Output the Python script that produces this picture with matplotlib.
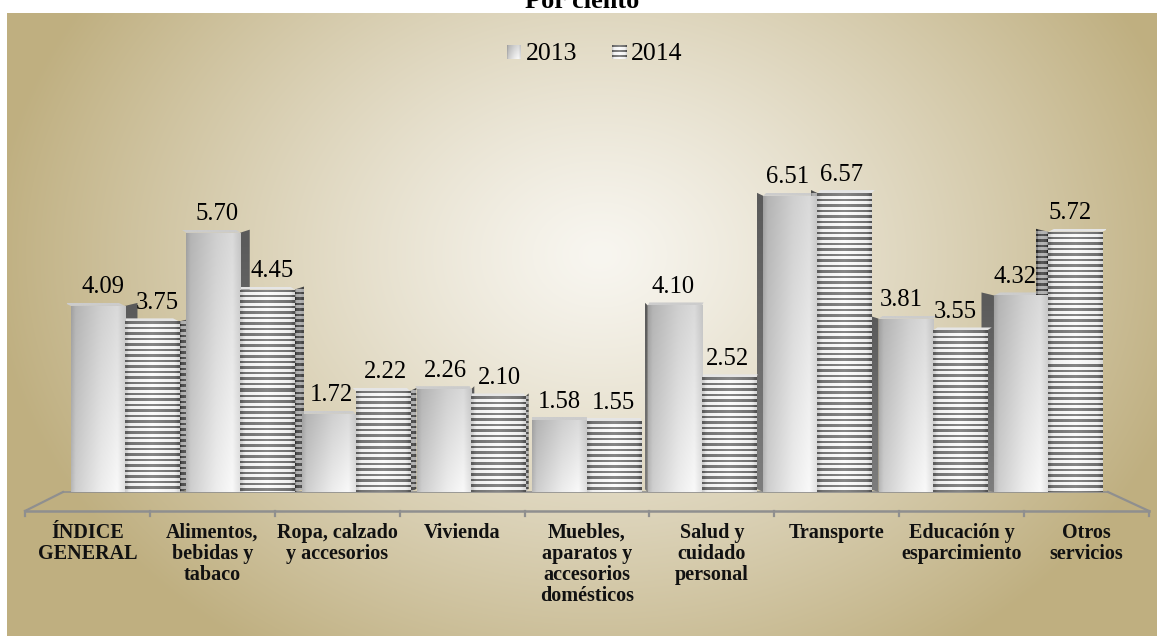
import numpy as np
import matplotlib
matplotlib.use("Agg")
import matplotlib.pyplot as plt
from matplotlib.patches import Polygon

# ---- data -------------------------------------------------------------
categories = [
    "ÍNDICE\nGENERAL",
    "Alimentos,\nbebidas y\ntabaco",
    "Ropa, calzado\ny accesorios",
    "Vivienda",
    "Muebles,\naparatos y\naccesorios\ndomésticos",
    "Salud y\ncuidado\npersonal",
    "Transporte",
    "Educación y\nesparcimiento",
    "Otros\nservicios",
]
values_2013 = [4.09, 5.70, 1.72, 2.26, 1.58, 4.10, 6.51, 3.81, 4.32]
values_2014 = [3.75, 4.45, 2.22, 2.10, 1.55, 2.52, 6.57, 3.55, 5.72]
series_labels = ["2013", "2014"]
title_text = "Por ciento"

# ---- figure / pixel canvas ---------------------------------------------
W, H, DPI = 1162, 639, 100
SERIF = "Liberation Serif"
fig = plt.figure(figsize=(W / DPI, H / DPI), dpi=DPI)
fig.patch.set_facecolor("white")

bg = fig.add_axes([0, 0, 1, 1])
bg.axis("off")

# panel with an elliptical radial gradient (light centre, khaki edges)
PL, PT, PR, PB = 7, 13, 1157, 636
yy, xx = np.mgrid[PT:PB, PL:PR] + 0.5
cx, cy, rx, ry = 600.0, 255.0, 610.0, 480.0
r = np.sqrt(((xx - cx) / rx) ** 2 + ((yy - cy) / ry) ** 2)
t = np.clip(r, 0, 1) ** 1.2
c0 = np.array([248, 246, 240]) / 255.0
c1 = np.array([191, 175, 128]) / 255.0
panel = c0[None, None, :] * (1 - t[..., None]) + c1[None, None, :] * t[..., None]
bg.imshow(panel, extent=(PL, PR, PB, PT), origin="upper", aspect="auto",
          interpolation="bilinear", zorder=0)

# floor of the 3-D plot area
floor_col = "#8f8f8f"
back_y, front_y = 492, 511
bl, br, fl, fr = 63, 1108, 25, 1149
bg.plot([fl, bl], [front_y, back_y], color=floor_col, lw=1.6, zorder=1)
bg.plot([fr, br], [front_y, back_y], color=floor_col, lw=1.6, zorder=1)
bg.plot([bl, br], [back_y, back_y], color=floor_col, lw=1.2, zorder=1)
bg.plot([fl, fr], [front_y, front_y], color=floor_col, lw=1.8, zorder=1)
n_cat = len(categories)
step = (fr - fl) / n_cat
for k in range(n_cat + 1):
    xk = fl + step * k
    bg.plot([xk, xk], [front_y, front_y + 5], color=floor_col, lw=1.6, zorder=1)

# category labels (one text per line for exact line pitch)
for i, lab in enumerate(categories):
    xc = fl + step * (i + 0.5)
    for j, line in enumerate(lab.split("\n")):
        bg.text(xc, 538 + 21 * j, line, ha="center", va="baseline",
                fontsize=14.5, fontweight="bold", family=SERIF, color="#111111")

# title, partly above the figure
bg.text(582, 8, title_text, ha="center", va="baseline", fontsize=19,
        fontweight="bold", family=SERIF, color="black", clip_on=False)


def face_2013(ncols=64, nrows=120):
    prof = np.interp(np.linspace(0, 1, ncols),
                     [0, 0.08, 0.55, 0.85, 1.0], [178, 200, 230, 242, 218])
    vfac = np.linspace(0.90, 1.03, nrows)
    g = np.clip(prof[None, :] * vfac[:, None], 0, 255) / 255.0
    return np.dstack([g, g, g])


def face_2014(nrows, ncols=64, dark_shift=0, light_shift=0, period=5.5, thick=2.2):
    tt = np.linspace(0, 1, ncols)
    dark = np.interp(tt, [0, 0.1, 0.5, 0.9, 1], [90, 115, 135, 112, 80]) + dark_shift
    light = np.interp(tt, [0, 0.1, 0.5, 0.9, 1], [205, 240, 252, 240, 215]) + light_shift
    rows = np.arange(nrows)
    is_dark = (rows % period) < thick
    img = np.where(is_dark[:, None], dark[None, :], light[None, :])
    g = np.clip(img, 0, 255) / 255.0
    return np.dstack([g, g, g])


# ---- legend -------------------------------------------------------------
leg_font = 18.5
bg.imshow(face_2013(16, 16), extent=(507, 521, 59, 45), origin="upper",
          aspect="auto", zorder=3)
bg.text(526, 60, series_labels[0], ha="left", va="baseline", fontsize=leg_font,
        family=SERIF, color="black")
bg.imshow(face_2014(14, 16, period=5, thick=2), extent=(612, 627, 59, 45),
          origin="upper", aspect="auto", interpolation="nearest", zorder=3)
bg.text(631, 60, series_labels[1], ha="left", va="baseline", fontsize=leg_font,
        family=SERIF, color="black")

bg.set_xlim(0, W)
bg.set_ylim(H, 0)

# ---- bar axes -------------------------------------------------------------
CAT_PX = 115.4          # pixels per category along the back plane
PX_PER_UNIT = 45.5      # pixels per percentage point
YMAX = 8.0
x_left_px = 125 - 0.5 * CAT_PX
ax = fig.add_axes([x_left_px / W, (H - back_y) / H,
                   n_cat * CAT_PX / W, YMAX * PX_PER_UNIT / H])
ax.patch.set_alpha(0)
ax.axis("off")

fw = 0.47                                 # front-face width of one bar
idx = np.arange(n_cat)
dy = 3.0 / PX_PER_UNIT                    # depth shift (up) of back edges
centre = (n_cat - 1) / 2.0

bars13 = ax.bar(idx - fw, values_2013, width=fw, align="edge",
                facecolor="none", edgecolor="none", zorder=3)
bars14 = ax.bar(idx, values_2014, width=fw, align="edge",
                facecolor="none", edgecolor="none", zorder=3)


def fill_poly(poly_xy, img, z, interp="bilinear"):
    poly = Polygon(poly_xy, closed=True, facecolor="none", edgecolor="none",
                   transform=ax.transData)
    ax.add_patch(poly)
    xs = [p[0] for p in poly_xy]
    ys = [p[1] for p in poly_xy]
    im = ax.imshow(img, extent=(min(xs), max(xs), min(ys), max(ys)),
                   origin="upper", aspect="auto", interpolation=interp, zorder=z)
    im.set_clip_path(poly)


for series, bars in ((0, bars13), (1, bars14)):
    for i, rect in enumerate(bars):
        x0 = rect.get_x()
        x1 = x0 + rect.get_width()
        v = rect.get_height()
        off = i - centre
        s = 0.027 * abs(off)               # side-face width (category units)
        sgn = np.sign(off)

        # side face, receding toward the centre of the view
        if sgn < 0:
            xe = x1
            side = [(xe, 0), (xe + s, dy), (xe + s, v + dy), (xe, v)]
        elif sgn > 0:
            xe = x0
            side = [(xe, 0), (xe - s, dy), (xe - s, v + dy), (xe, v)]
        else:
            side = None
        if side is not None:
            if series == 0:
                g = np.interp(np.linspace(0, 1, 40), [0, 1], [90, 125]) / 255.0
                simg = np.dstack([np.tile(g[:, None], (1, 8))] * 3)
                fill_poly(side, simg, 1)
            else:
                nr = int(round((v + dy) * PX_PER_UNIT))
                fill_poly(side, face_2014(nr, 8, dark_shift=-45, light_shift=-70),
                          1, interp="nearest")

        # top face
        top = [(x0, v), (x1, v), (x1 + sgn * s * 0.5, v + dy), (x0 + sgn * s * 0.5, v + dy)]
        tcol = 0.80 if series == 0 else 0.90
        fill_poly(top, np.full((2, 2, 3), tcol), 1)

        # front face
        if series == 0:
            img = face_2013()
            interp = "bilinear"
        else:
            img = face_2014(max(1, int(round(v * PX_PER_UNIT))))
            interp = "nearest"
        im = ax.imshow(img, extent=(x0, x1, 0, v), origin="upper",
                       aspect="auto", interpolation=interp, zorder=2)
        im.set_clip_path(rect)

        # value label, centred over the receding top of the bar
        lx = x0 + (x1 - x0) / 2 - sgn * 0.45 * s
        ax.annotate(f"{v:.2f}", xy=(lx, v), xytext=(0, 9),
                    textcoords="offset points", ha="center", va="baseline",
                    fontsize=17.7, family=SERIF, color="black", zorder=5)

ax.set_xlim(-0.5, n_cat - 0.5)
ax.set_ylim(0, YMAX)

fig.savefig("out.png", dpi=DPI, facecolor="white")
